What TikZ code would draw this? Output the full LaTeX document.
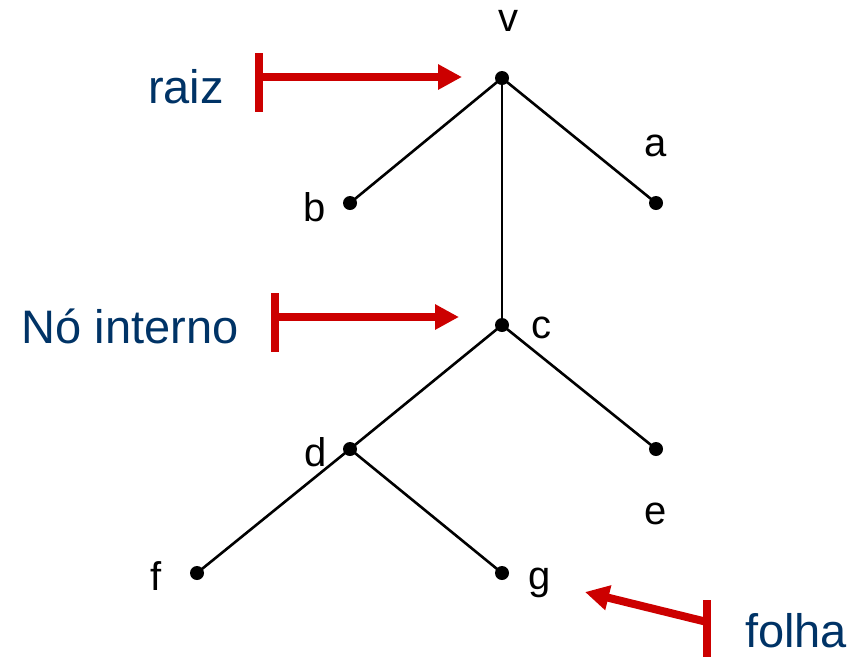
\documentclass[tikz,border=0pt]{standalone}
\usepackage{fontspec}
\setmainfont{Liberation Sans}
\usetikzlibrary{arrows.meta}
\definecolor{navy}{HTML}{003366}
\definecolor{redarrow}{HTML}{CC0000}
\tikzset{
  vert/.style={circle,fill=black,inner sep=0pt,minimum size=14pt},
  edge/.style={line width=2.6pt,black},
  lbl/.style={font=\fontsize{40}{40}\selectfont,inner sep=0pt},
  blue/.style={font=\fontsize{47}{47}\selectfont,text=navy,inner sep=0pt},
  tippointer/.style={line width=8pt,redarrow,-{Triangle[length=24pt,width=24pt]}},
  redbar/.style={line width=8pt,redarrow}
}
\begin{document}
\begin{tikzpicture}[x=1pt,y=-1pt]
\useasboundingbox (0,0) rectangle (862,657);
% vertices
\node[vert] (v) at (502,78) {};
\node[vert] (b) at (350,203) {};
\node[vert] (a) at (656,203) {};
\node[vert] (c) at (502,325) {};
\node[vert] (d) at (350,449) {};
\node[vert] (e) at (656,449) {};
\node[vert] (f) at (197,573) {};
\node[vert] (g) at (502,573) {};
% edges
\draw[edge] (v.center) -- (b.center);
\draw[edge] (v.center) -- (a.center);
\draw[edge] (v.center) -- (c.center);
\draw[edge] (c.center) -- (d.center);
\draw[edge] (c.center) -- (e.center);
\draw[edge] (d.center) -- (f.center);
\draw[edge] (d.center) -- (g.center);
% labels
\node[lbl] (lv) at (508,21) {v};
\node[lbl] (lb) at (315,207) {b};
\node[lbl] (la) at (656,146) {a};
\node[lbl] (lc) at (541,328) {c};
\node[lbl] (ld) at (316,452) {d};
\node[lbl] (le) at (656,514) {e};
\node[lbl] (lf) at (156,576) {f};
\node[lbl] (lg) at (540,583) {g};
% blue texts
\node[blue] (raiz) at (186,87) {raiz};
\node[blue] (interno) at (130,326) {Nó interno};
\node[blue] (folha) at (796,631) {folha};
% red pointers
\coordinate (r1) at (259,77);
\coordinate (r1t) at (462,77);
\coordinate (r1a) at (259,53);
\coordinate (r1b) at (259,112);
\coordinate (r2) at (275,317);
\coordinate (r2t) at (459,317);
\coordinate (r2a) at (275,293);
\coordinate (r2b) at (275,352);
\coordinate (r3) at (707,622);
\coordinate (r3t) at (585,592);
\coordinate (r3a) at (707,600);
\coordinate (r3b) at (707,657);
\draw[tippointer] (r1) -- (r1t);
\draw[redbar] (r1a) -- (r1b);
\draw[tippointer] (r2) -- (r2t);
\draw[redbar] (r2a) -- (r2b);
\draw[tippointer] (r3) -- (r3t);
\draw[redbar] (r3a) -- (r3b);
\end{tikzpicture}
\end{document}
